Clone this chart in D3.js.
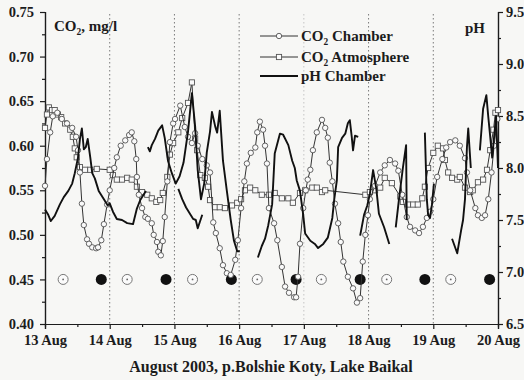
<!DOCTYPE html>
<html>
<head>
<meta charset="utf-8">
<script src="https://cdn.jsdelivr.net/npm/d3@7/dist/d3.min.js"></script>
<style>
  body { margin: 0; background: #fff; }
  svg { display: block; }
  text, tspan { font-family: 'Liberation Serif', 'DejaVu Serif', serif; font-weight: bold; }
</style>
</head>
<body>
<svg id="chart" width="524" height="380"></svg>
<script>
// day of August 2003 (fractional) and CO2 in the chamber, mg/l
let chamberT = [13.00, 13.03, 13.08, 13.12, 13.19, 13.26, 13.34, 13.42, 13.48, 13.51, 13.54, 13.57, 13.60, 13.65, 13.68, 13.73, 13.79, 13.82, 13.87, 13.91, 13.96,
  14.00, 14.07, 14.11, 14.17, 14.24, 14.30, 14.34, 14.38, 14.41, 14.42, 14.45, 14.50, 14.55, 14.59, 14.65, 14.68, 14.73, 14.75, 14.79, 14.82, 14.85, 14.89, 14.93, 14.98,
  15.01, 15.09, 15.16, 15.21, 15.27, 15.32, 15.36, 15.43, 15.50, 15.55, 15.60, 15.64, 15.70, 15.75, 15.81, 15.87, 15.94, 15.98,
  16.03, 16.08, 16.12, 16.18, 16.25, 16.28, 16.32, 16.37, 16.40, 16.43, 16.46, 16.54, 16.59, 16.66, 16.71, 16.77, 16.85, 16.88, 16.91, 16.94, 16.99,
  17.03, 17.06, 17.10, 17.14, 17.20, 17.28, 17.33, 17.37, 17.40, 17.44, 17.48, 17.53, 17.57, 17.61, 17.68, 17.76, 17.82, 17.87, 17.91, 17.95, 17.99,
  18.02, 18.10, 18.18, 18.25, 18.33, 18.41, 18.46, 18.52, 18.59, 18.64, 18.72, 18.78, 18.84, 18.90, 18.95,
  19.00, 19.06, 19.14, 19.20, 19.26, 19.34, 19.41, 19.49, 19.52, 19.57, 19.65, 19.69, 19.75, 19.80, 19.85, 19.90, 19.94, 19.99];
let chamberCO2 = [0.555, 0.585, 0.615, 0.633, 0.637, 0.630, 0.625, 0.620, 0.610, 0.595, 0.570, 0.535, 0.511, 0.495, 0.490, 0.486, 0.485, 0.486, 0.494, 0.512, 0.534,
  0.550, 0.575, 0.587, 0.600, 0.606, 0.612, 0.615, 0.605, 0.585, 0.565, 0.545, 0.530, 0.520, 0.518, 0.513, 0.500, 0.492, 0.481, 0.477, 0.493, 0.520, 0.560, 0.604, 0.625,
  0.630, 0.645, 0.621, 0.610, 0.603, 0.614, 0.600, 0.585, 0.578, 0.570, 0.514, 0.502, 0.485, 0.466, 0.457, 0.455, 0.472, 0.494,
  0.530, 0.560, 0.580, 0.592, 0.598, 0.615, 0.627, 0.618, 0.600, 0.580, 0.530, 0.513, 0.494, 0.464, 0.442, 0.435, 0.430, 0.430, 0.453, 0.490, 0.530,
  0.550, 0.562, 0.573, 0.595, 0.615, 0.629, 0.620, 0.609, 0.581, 0.560, 0.535, 0.513, 0.492, 0.470, 0.453, 0.440, 0.424, 0.429, 0.470, 0.500, 0.522,
  0.540, 0.555, 0.570, 0.578, 0.584, 0.580, 0.572, 0.545, 0.520, 0.509, 0.505, 0.502, 0.509, 0.519, 0.526,
  0.540, 0.565, 0.585, 0.598, 0.604, 0.606, 0.600, 0.586, 0.570, 0.550, 0.530, 0.522, 0.519, 0.522, 0.540, 0.570, 0.600, 0.630];

// CO2 in the atmosphere, mg/l
let atmT = [13.00, 13.03, 13.06, 13.11, 13.15, 13.20, 13.25, 13.31, 13.39, 13.43, 13.46, 13.49, 13.54, 13.62, 13.70, 13.80,
  14.00, 14.05, 14.11, 14.19, 14.27, 14.34, 14.42, 14.50, 14.58, 14.65, 14.72, 14.78, 14.82, 14.89, 14.93, 14.98,
  15.06, 15.12, 15.21, 15.27, 15.32, 15.35, 15.40, 15.47, 15.52, 15.55, 15.63, 15.70, 15.78, 15.89, 15.97,
  16.03, 16.09, 16.17, 16.25, 16.35, 16.46, 16.55, 16.66, 16.76, 16.83, 16.94,
  17.02, 17.13, 17.20, 17.28, 17.33, 17.95,
  18.02, 18.10, 18.18, 18.25, 18.36, 18.49, 18.53, 18.61, 18.69, 18.76, 18.83, 18.87, 18.92,
  19.00, 19.07, 19.15, 19.18, 19.23, 19.29, 19.37, 19.41, 19.49, 19.57, 19.61, 19.69, 19.77, 19.83, 19.88, 19.93, 19.96, 20.00];
let atmCO2 = [0.620, 0.635, 0.643, 0.640, 0.640, 0.635, 0.632, 0.625, 0.618, 0.610, 0.597, 0.587, 0.576, 0.573, 0.573, 0.574,
  0.573, 0.567, 0.562, 0.562, 0.564, 0.562, 0.554, 0.548, 0.545, 0.541, 0.537, 0.539, 0.547, 0.565, 0.590, 0.603,
  0.615, 0.631, 0.648, 0.671, 0.608, 0.595, 0.567, 0.564, 0.554, 0.539, 0.531, 0.531, 0.530, 0.533, 0.536,
  0.540, 0.550, 0.553, 0.550, 0.545, 0.545, 0.547, 0.541, 0.541, 0.536, 0.547,
  0.550, 0.553, 0.553, 0.548, 0.550, 0.545,
  0.548, 0.550, 0.553, 0.564, 0.558, 0.543, 0.537, 0.534, 0.534, 0.534, 0.541, 0.554, 0.575,
  0.592, 0.600, 0.597, 0.584, 0.570, 0.564, 0.562, 0.565, 0.553, 0.548, 0.550, 0.559, 0.562, 0.573, 0.595, 0.618, 0.637, 0.640];

// pH in the chamber, recorded in pieces (null = break in the record)
let phT = [13.00, 13.05, 13.09, 13.15, 13.23, 13.29, 13.36, 13.42, 13.46, 13.51, 13.54, 13.57, 13.60, 13.63, 13.66, 13.70, 13.73, 13.77, 13.83, 13.91, 13.97,
  14.00, 14.05, 14.11, 14.19, 14.27, 14.36, 14.42, 14.47, 14.53, 14.56, 14.57,
  14.59, 14.62, 14.65, 14.70, 14.75, 14.81, 14.85, 14.90, 14.96, 15.02, 15.08, 15.14, 15.21, 15.27, 15.32, 15.36, 15.41,
  15.46, 15.50, 15.55, 15.58, 15.63, 15.66, 15.70, 15.75, 15.81, 15.87, 15.92, 15.97, 16.01, 16.05,
  15.06, 15.12, 15.18, 15.23, 15.29, 15.33, 15.36, 15.43, 15.44,
  16.29, 16.35, 16.40, 16.45, 16.51, 16.55, 16.63, 16.68, 16.76, 16.82, 16.86, 16.89, 16.94, 16.99,
  17.02, 17.10, 17.17, 17.22, 17.30, 17.37, 17.44, 17.47, 17.51, 17.53, 17.59, 17.64, 17.68, 17.71, 17.74, 17.76, 17.79, 17.84, 17.86,
  17.87, 17.93, 17.98, 18.02, 18.07, 18.12, 18.16, 18.24, 18.32, 18.35,
  18.42, 18.47, 18.53, 18.58, 18.59, 18.62,
  18.87, 18.90, 18.92, 18.95, 18.98, 19.01, 19.03,
  19.29, 19.37, 19.43, 19.46, 19.49, 19.52, 19.54, 19.58, 19.62,
  19.72, 19.77, 19.82, 19.85, 19.88, 19.91, 19.94, 19.97, 20.00];
let phVal = [7.60, 7.55, 7.49, 7.54, 7.65, 7.72, 7.78, 7.85, 7.95, 8.10, 8.28, 8.38, 8.18, 8.20, 8.28, 8.10, 7.95, 7.90, 7.78, 7.70, 7.64,
  7.66, 7.58, 7.51, 7.50, 7.47, 7.46, 7.61, 7.69, 7.75, 7.78, null,
  8.20, 8.16, 8.22, 8.28, 8.36, 8.41, 8.29, 8.07, 7.95, 7.85, 7.92, 8.05, 8.35, 8.72, 8.40, 7.98, 7.70,
  7.85, 8.15, 8.35, 8.54, 8.40, 8.34, 8.55, 8.07, 7.78, 7.50, 7.30, 7.20, 7.20, null,
  7.80, 7.70, 7.62, 7.57, 7.51, 7.50, 7.42, 7.55, null,
  7.14, 7.25, 7.32, 7.45, 7.65, 8.14, 8.33, 8.32, 8.22, 8.07, 8.00, 7.88, 7.78, 7.55,
  7.37, 7.30, 7.27, 7.23, 7.27, 7.33, 7.52, 7.70, 7.88, 8.20, 8.29, 8.33, 8.43, 8.46, 8.30, 8.17, 8.31, 8.30, null,
  7.35, 7.55, 7.64, 7.75, 7.98, 7.80, 7.56, 7.43, 7.27, null,
  7.43, 7.70, 8.00, 8.22, 7.50, null,
  8.34, 7.70, 7.55, 7.52, 7.65, 7.85, null,
  7.32, 7.18, 7.40, 7.50, 7.70, 8.20, 8.38, 8.00, null,
  8.17, 8.57, 8.70, 8.49, 8.30, 8.10, 8.30, 8.50, 8.00];

// sun (open) and night (filled) symbols along the 0.45 line
let dayMarks = [13.28, 14.27, 15.28, 16.28, 17.27, 18.28, 19.27];
let nightMarks = [13.87, 14.87, 15.88, 16.88, 17.87, 18.87, 19.87];
let gridDays = [14, 15, 16, 17, 18, 19];
let dayTicks = [13, 14, 15, 16, 17, 18, 19, 20];
let co2Ticks = [0.40, 0.45, 0.50, 0.55, 0.60, 0.65, 0.70, 0.75];
let phTicks = [6.5, 7.0, 7.5, 8.0, 8.5, 9.0, 9.5];

let margin = { left: 45, right: 498, top: 12, bottom: 324 };
let svg = d3.select('#chart');
let ink = '#1c1c1c';
let serif = "'Liberation Serif', 'DejaVu Serif', serif";

svg.append('rect').attr('width', 524).attr('height', 380).attr('fill', '#f7f7f5');

let x = d3.scaleLinear().domain([13, 20]).range([margin.left, margin.right]);
let yCO2 = d3.scaleLinear().domain([0.40, 0.75]).range([margin.bottom, margin.top]);
let yPH = d3.scaleLinear().domain([6.5, 9.5]).range([margin.bottom, margin.top]);

// dotted day separators
svg.append('g').selectAll('line')
  .data(gridDays)
  .join('line')
  .attr('x1', d => x(d)).attr('x2', d => x(d))
  .attr('y1', margin.top + 2).attr('y2', margin.bottom)
  .attr('stroke', d => d === 17 ? '#c4c4c4' : '#7a7a7a')
  .attr('stroke-width', 1)
  .attr('stroke-dasharray', '1.5,2.5');

// axes
function styleAxis (g) {
  g.attr('font-family', serif).attr('font-weight', 'bold');
  g.select('.domain').attr('stroke', ink).attr('stroke-width', 1.2);
  g.selectAll('.tick line').attr('stroke', ink).attr('stroke-width', 1.2);
  g.selectAll('.tick text').attr('fill', ink).attr('font-size', 14.5);
}

// minor ticks first, majors on top
svg.append('g')
  .attr('transform', 'translate(' + margin.left + ',0)')
  .call(d3.axisLeft(yCO2).tickValues(d3.range(0.425, 0.75, 0.05)).tickSize(3).tickFormat(''))
  .call(styleAxis);
svg.append('g')
  .attr('transform', 'translate(' + margin.left + ',0)')
  .call(d3.axisLeft(yCO2).tickValues(co2Ticks).tickSize(5).tickPadding(6).tickFormat(d3.format('.2f')))
  .call(styleAxis);

svg.append('g')
  .attr('transform', 'translate(' + margin.right + ',0)')
  .call(d3.axisRight(yPH).tickValues(d3.range(6.75, 9.5, 0.5)).tickSize(3).tickFormat(''))
  .call(styleAxis);
svg.append('g')
  .attr('transform', 'translate(' + margin.right + ',0)')
  .call(d3.axisRight(yPH).tickValues(phTicks).tickSize(5).tickPadding(3).tickFormat(d3.format('.1f')))
  .call(styleAxis);

svg.append('g')
  .attr('transform', 'translate(0,' + margin.bottom + ')')
  .call(d3.axisBottom(x).tickValues(d3.range(13.5, 20, 1)).tickSize(3).tickFormat(''))
  .call(styleAxis);
svg.append('g')
  .attr('transform', 'translate(0,' + margin.bottom + ')')
  .call(d3.axisBottom(x).tickValues(dayTicks).tickSize(5).tickPadding(6).tickFormat(d => d + ' Aug'))
  .call(styleAxis);

// sun / night symbols
let marks = svg.append('g');
marks.selectAll('circle.sun')
  .data(dayMarks)
  .join('circle')
  .attr('class', 'sun')
  .attr('cx', d => x(d)).attr('cy', yCO2(0.45)).attr('r', 5)
  .attr('fill', '#fbfbfb').attr('stroke', '#777').attr('stroke-width', 1);
marks.selectAll('circle.sundot')
  .data(dayMarks)
  .join('circle')
  .attr('class', 'sundot')
  .attr('cx', d => x(d)).attr('cy', yCO2(0.45)).attr('r', 0.9)
  .attr('fill', '#666');
marks.selectAll('circle.night')
  .data(nightMarks)
  .join('circle')
  .attr('class', 'night')
  .attr('cx', d => x(d)).attr('cy', yCO2(0.45)).attr('r', 5.5)
  .attr('fill', '#111');

// CO2 series
let atm = atmT.map((t, i) => [t, atmCO2[i]]);
let cham = chamberT.map((t, i) => [t, chamberCO2[i]]);
let co2Line = d3.line().x(d => x(d[0])).y(d => yCO2(d[1]));

svg.append('path').datum(atm)
  .attr('d', co2Line).attr('fill', 'none').attr('stroke', '#333').attr('stroke-width', 1);
svg.append('g').selectAll('rect')
  .data(atm)
  .join('rect')
  .attr('x', d => x(d[0]) - 2.6).attr('y', d => yCO2(d[1]) - 2.6)
  .attr('width', 5.2).attr('height', 5.2)
  .attr('fill', '#fafafa').attr('stroke', '#555').attr('stroke-width', 0.9);

svg.append('path').datum(cham)
  .attr('d', co2Line).attr('fill', 'none').attr('stroke', '#333').attr('stroke-width', 1);
svg.append('g').selectAll('circle')
  .data(cham)
  .join('circle')
  .attr('cx', d => x(d[0])).attr('cy', d => yCO2(d[1])).attr('r', 2.7)
  .attr('fill', '#fafafa').attr('stroke', '#555').attr('stroke-width', 0.9);

// pH line
let ph = phT.map((t, i) => [t, phVal[i]]);
svg.append('path').datum(ph)
  .attr('d', d3.line().defined(d => d[1] !== null).x(d => x(d[0])).y(d => yPH(d[1])))
  .attr('fill', 'none').attr('stroke', '#111').attr('stroke-width', 1.9)
  .attr('stroke-linejoin', 'round');

// text helpers
function label (sel, size) {
  return sel.attr('font-family', serif).attr('font-weight', 'bold')
    .attr('font-size', size).attr('fill', ink);
}
// "CO2" with a lowered 2, then the rest of the text
function co2Text (t, size, rest) {
  label(t.append('tspan'), size).text('CO');
  label(t.append('tspan'), size * 0.63).text('2').attr('dy', 3.5);
  label(t.append('tspan'), size).text(rest).attr('dy', -3.5);
}

co2Text(label(svg.append('text').attr('x', 54).attr('y', 31), 15), 15, ', mg/l');

label(svg.append('text').attr('x', 465).attr('y', 33), 15).text('pH');

label(svg.append('text').attr('x', 271).attr('y', 372), 16)
  .attr('text-anchor', 'middle')
  .text('August 2003, p.Bolshie Koty, Lake Baikal');

// legend
let legendRows = [
  { label: ' Chamber', sub: true, mark: 'circle', y: 36 },
  { label: ' Atmosphere', sub: true, mark: 'square', y: 57 },
  { label: 'pH Chamber', sub: false, mark: null, y: 76 }
];
let legend = svg.append('g');
legendRows.forEach(r => {
  legend.append('line')
    .attr('x1', 260).attr('x2', 298).attr('y1', r.y).attr('y2', r.y)
    .attr('stroke', r.mark ? '#333' : '#111').attr('stroke-width', r.mark ? 1 : 1.9);
  if (r.mark === 'circle') {
    legend.append('circle').attr('cx', 279).attr('cy', r.y).attr('r', 2.7)
      .attr('fill', '#fafafa').attr('stroke', '#555').attr('stroke-width', 0.9);
  } else if (r.mark === 'square') {
    legend.append('rect').attr('x', 276.4).attr('y', r.y - 2.6).attr('width', 5.2).attr('height', 5.2)
      .attr('fill', '#fafafa').attr('stroke', '#555').attr('stroke-width', 0.9);
  }
  let t = label(legend.append('text').attr('x', 301).attr('y', r.y + 5), 15);
  if (r.sub) {
    co2Text(t, 15, r.label);
  } else {
    t.text(r.label);
  }
});
</script>
</body>
</html>
